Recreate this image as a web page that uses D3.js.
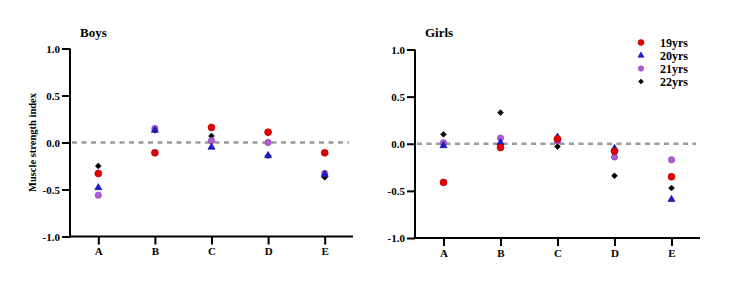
<!DOCTYPE html>
<html><head><meta charset="utf-8">
<script src="https://cdn.jsdelivr.net/npm/d3@7"></script>
<style>
body{margin:0;background:#fff;}
svg{display:block;}
svg text{font-family:"Liberation Serif","Times New Roman",serif;}
</style></head>
<body><svg id="c" width="744" height="286"></svg>
<script>
const categories = ["A","B","C","D","E"];
const seriesNames = ["19yrs","20yrs","21yrs","22yrs"];
const yTicks = [-1.0,-0.5,0.0,0.5,1.0];
const yTickLabels = ["-1.0","-0.5","0.0","0.5","1.0"];
// Boys values per series (A..E)
const boys19 = [-0.33, -0.11, 0.16, 0.11, -0.11];
const boys20 = [-0.48, 0.13, -0.05, -0.14, -0.34];
const boys21 = [-0.56, 0.15, 0.02, 0.00, -0.33];
const boys22 = [-0.25, 0.13, 0.07, -0.14, -0.37];
// Girls values per series (A..E)
const girls19 = [-0.41, -0.04, 0.05, -0.08, -0.35];
const girls20 = [-0.02, 0.01, 0.07, -0.05, -0.59];
const girls21 = [0.01, 0.06, 0.03, -0.14, -0.17];
const girls22 = [0.10, 0.33, -0.03, -0.34, -0.47];

const colors = {"19yrs":"#e80000","20yrs":"#1c1cd6","21yrs":"#b05ad6","22yrs":"#000000"};
const strokes = {"19yrs":"#a00000","20yrs":"#0a0a90","21yrs":"#8a40b0","22yrs":"#000000"};
const shapes = {"19yrs":d3.symbolCircle,"20yrs":d3.symbolTriangle,"21yrs":d3.symbolCircle,"22yrs":d3.symbolSquare};
const rot = {"19yrs":0,"20yrs":0,"21yrs":0,"22yrs":45};
const sizes = {"19yrs":38,"20yrs":22,"21yrs":32,"22yrs":17};

const svg = d3.select("#c");

function panel(title, vals, x0, x1, yTop, yBot, titleX, showYLabel){
  const x = d3.scalePoint().domain(categories).range([x0,x1]).padding(0.5);
  const y = d3.scaleLinear().domain([-1,1]).range([yBot,yTop]);
  const g = svg.append("g");
  g.append("line").attr("x1",x0+2).attr("x2",x1-4).attr("y1",y(0)).attr("y2",y(0))
    .attr("stroke","#9a9a9a").attr("stroke-width",2.6).attr("stroke-dasharray","5,4.5");
  const ya = g.append("g").attr("transform",`translate(${x0},0)`)
    .call(d3.axisLeft(y).tickValues(yTicks).tickFormat((d,i)=>yTickLabels[i]).tickSize(8).tickSizeOuter(0).tickPadding(2));
  const xa = g.append("g").attr("transform",`translate(0,${yBot})`)
    .call(d3.axisBottom(x).tickSize(8).tickSizeOuter(0).tickPadding(3));
  [ya,xa].forEach(a=>{
    a.attr("font-family",null);
    a.select(".domain").attr("stroke","#000").attr("stroke-width",2);
    a.selectAll(".tick line").attr("stroke","#000").attr("stroke-width",2);
    a.selectAll(".tick text").attr("fill","#000").attr("font-weight","bold").attr("font-size",11);
  });
  ya.select(".domain").attr("d",`M0,${yBot+1}V${yTop}`);
  xa.select(".domain").attr("d",`M${x0-1},0H${x1}`);
  g.append("text").attr("x",titleX).attr("y",37).attr("font-size",13).attr("font-weight","bold").text(title);
  if(showYLabel){
    g.append("text").attr("transform",`translate(36,${(yTop+yBot)/2}) rotate(-90)`)
      .attr("text-anchor","middle").attr("font-size",10.5).attr("font-weight","bold").text("Muscle strength index");
  }
  const order = ["22yrs","21yrs","20yrs","19yrs"];
  order.forEach(s=>{
    const arr = vals[s];
    g.selectAll(null).data(arr).enter().append("path")
      .attr("d",d3.symbol().type(shapes[s]).size(sizes[s]))
      .attr("transform",(d,i)=>`translate(${x(categories[i])},${y(d)}) rotate(${rot[s]})`)
      .attr("fill",colors[s]).attr("stroke",strokes[s]).attr("stroke-width",0.6);
  });
}

panel("Boys", {"19yrs":boys19,"20yrs":boys20,"21yrs":boys21,"22yrs":boys22}, 70, 353, 48.5, 236.5, 80, true);
panel("Girls", {"19yrs":girls19,"20yrs":girls20,"21yrs":girls21,"22yrs":girls22}, 415, 700, 49.5, 238, 425, false);

const lg = svg.append("g");
seriesNames.forEach((s,i)=>{
  const yy = 42.5 + i*13;
  lg.append("path").attr("d",d3.symbol().type(shapes[s]).size(sizes[s]*0.75))
    .attr("transform",`translate(641,${yy}) rotate(${rot[s]})`).attr("fill",colors[s]).attr("stroke",strokes[s]).attr("stroke-width",0.5);
  lg.append("text").attr("x",660).attr("y",yy+4).attr("font-size",12).attr("font-weight","bold").text(s);
});
</script></body></html>
